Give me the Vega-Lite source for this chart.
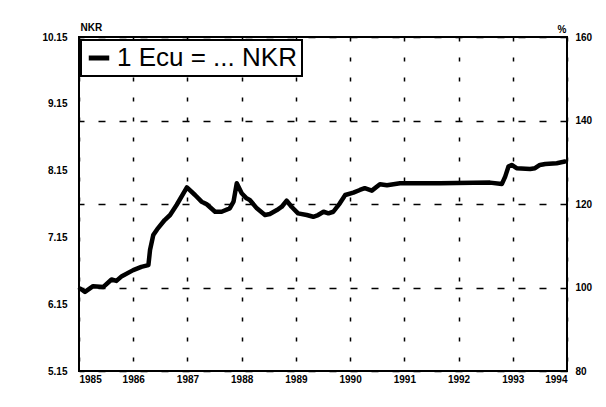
{
  "$schema": "https://vega.github.io/schema/vega-lite/v6.json",
  "autosize": "none",
  "width": 488,
  "height": 334,
  "padding": {"left": 79, "top": 37, "right": 39, "bottom": 36},
  "background": "white",
  "config": {
    "view": {"stroke": "black", "strokeWidth": 2},
    "axis": {
      "labelFont": "Liberation Sans",
      "labelFontWeight": "bold",
      "labelFontSize": 10,
      "labelColor": "black",
      "titleFont": "Liberation Sans",
      "titleFontWeight": "bold",
      "titleFontSize": 10,
      "titleColor": "black",
      "domain": false,
      "ticks": false
    }
  },
  "data": {
    "values": [
      {"year": 1985.02, "nkr": 6.385},
      {"year": 1985.11, "nkr": 6.334},
      {"year": 1985.26, "nkr": 6.42},
      {"year": 1985.45, "nkr": 6.409},
      {"year": 1985.60, "nkr": 6.52},
      {"year": 1985.69, "nkr": 6.499},
      {"year": 1985.79, "nkr": 6.57},
      {"year": 1986.00, "nkr": 6.66},
      {"year": 1986.15, "nkr": 6.709},
      {"year": 1986.28, "nkr": 6.735},
      {"year": 1986.31, "nkr": 6.96},
      {"year": 1986.37, "nkr": 7.185},
      {"year": 1986.44, "nkr": 7.27},
      {"year": 1986.58, "nkr": 7.41},
      {"year": 1986.68, "nkr": 7.485},
      {"year": 1986.80, "nkr": 7.635},
      {"year": 1986.99, "nkr": 7.898},
      {"year": 1987.14, "nkr": 7.785},
      {"year": 1987.26, "nkr": 7.685},
      {"year": 1987.35, "nkr": 7.65},
      {"year": 1987.51, "nkr": 7.534},
      {"year": 1987.63, "nkr": 7.534},
      {"year": 1987.78, "nkr": 7.585},
      {"year": 1987.85, "nkr": 7.685},
      {"year": 1987.91, "nkr": 7.961},
      {"year": 1988.00, "nkr": 7.811},
      {"year": 1988.09, "nkr": 7.735},
      {"year": 1988.15, "nkr": 7.71},
      {"year": 1988.28, "nkr": 7.585},
      {"year": 1988.43, "nkr": 7.485},
      {"year": 1988.52, "nkr": 7.50},
      {"year": 1988.65, "nkr": 7.56},
      {"year": 1988.74, "nkr": 7.609},
      {"year": 1988.83, "nkr": 7.70},
      {"year": 1988.92, "nkr": 7.609},
      {"year": 1989.04, "nkr": 7.51},
      {"year": 1989.20, "nkr": 7.485},
      {"year": 1989.32, "nkr": 7.459},
      {"year": 1989.41, "nkr": 7.485},
      {"year": 1989.51, "nkr": 7.534},
      {"year": 1989.60, "nkr": 7.51},
      {"year": 1989.69, "nkr": 7.534},
      {"year": 1989.81, "nkr": 7.661},
      {"year": 1989.91, "nkr": 7.785},
      {"year": 1990.06, "nkr": 7.82},
      {"year": 1990.18, "nkr": 7.86},
      {"year": 1990.27, "nkr": 7.886},
      {"year": 1990.40, "nkr": 7.85},
      {"year": 1990.55, "nkr": 7.946},
      {"year": 1990.68, "nkr": 7.931},
      {"year": 1990.83, "nkr": 7.95},
      {"year": 1990.92, "nkr": 7.961},
      {"year": 1991.66, "nkr": 7.961},
      {"year": 1992.58, "nkr": 7.97},
      {"year": 1992.80, "nkr": 7.95},
      {"year": 1992.86, "nkr": 8.06},
      {"year": 1992.92, "nkr": 8.21},
      {"year": 1992.98, "nkr": 8.235},
      {"year": 1993.07, "nkr": 8.186},
      {"year": 1993.32, "nkr": 8.175},
      {"year": 1993.41, "nkr": 8.186},
      {"year": 1993.50, "nkr": 8.235},
      {"year": 1993.60, "nkr": 8.25},
      {"year": 1993.81, "nkr": 8.261},
      {"year": 1993.96, "nkr": 8.285}
    ]
  },
  "layer": [
    {
      "mark": {"type": "line", "strokeWidth": 4.5, "strokeJoin": "round", "strokeCap": "round"},
      "encoding": {
        "x": {
          "field": "year",
          "type": "quantitative",
          "scale": {"domain": [1985, 1994], "nice": false, "zero": false},
          "axis": {
            "title": null,
            "values": [1985, 1986, 1987, 1988, 1989, 1990, 1991, 1992, 1993, 1994],
            "format": "d",
            "labelFlush": true,
            "labelPadding": 3,
            "grid": true,
            "gridColor": "black",
            "gridWidth": 1.5,
            "gridDash": [4, 16],
            "gridOpacity": 1
          }
        },
        "y": {
          "field": "nkr",
          "type": "quantitative",
          "scale": {"domain": [5.15, 10.15], "nice": false, "zero": false},
          "axis": {
            "title": "NKR",
            "titleAngle": 0,
            "titleAlign": "left",
            "titleBaseline": "bottom",
            "titleX": 1,
            "titleY": -5,
            "values": [5.15, 6.15, 7.15, 8.15, 9.15, 10.15],
            "format": ".2f",
            "labelPadding": 12,
            "grid": false
          }
        },
        "color": {
          "datum": "1 Ecu = ... NKR",
          "type": "nominal",
          "scale": {"range": ["black"]},
          "legend": {
            "title": null,
            "orient": "none",
            "legendX": 2,
            "legendY": 3,
            "padding": 5,
            "fillColor": "white",
            "symbolType": "stroke",
            "symbolSize": 420,
            "symbolStrokeWidth": 5,
            "symbolStrokeColor": "black",
            "labelFont": "Liberation Sans",
            "labelFontSize": 26,
            "labelColor": "black",
            "labelOffset": 5,
            "labelLimit": 400,
            "encode": {
              "legend": {
                "update": {
                  "stroke": {"value": "black"},
                  "strokeWidth": {"value": 2},
                  "width": {"value": 273}
                }
              }
            }
          }
        }
      }
    },
    {
      "mark": {"type": "rule", "opacity": 0},
      "encoding": {
        "y": {
          "datum": 100,
          "type": "quantitative",
          "scale": {"domain": [80, 160], "nice": false, "zero": false},
          "axis": {
            "orient": "right",
            "title": "%",
            "titleAngle": 0,
            "titleAlign": "right",
            "titleBaseline": "bottom",
            "titleX": -1,
            "titleY": -3,
            "values": [80, 100, 120, 140, 160],
            "labelPadding": 8,
            "grid": true,
            "gridColor": "black",
            "gridWidth": 1.5,
            "gridDash": [7, 14],
            "gridOpacity": 1
          }
        }
      }
    }
  ],
  "resolve": {"scale": {"y": "independent"}}
}
